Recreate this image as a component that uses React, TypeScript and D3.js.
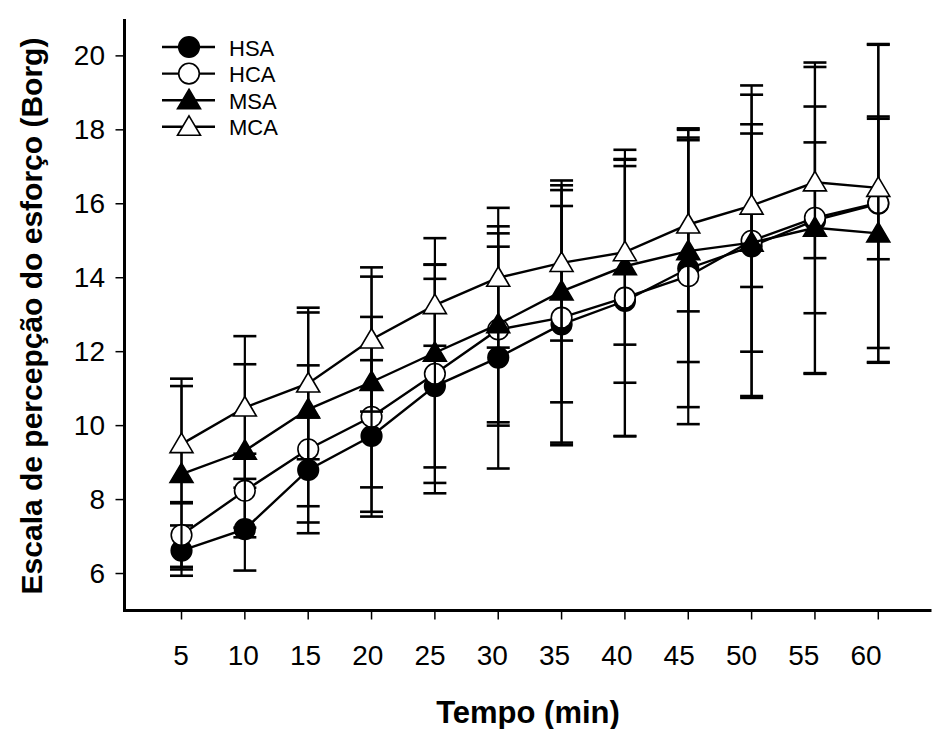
import React from "react";
import * as d3 from "d3";

const times = [5, 10, 15, 20, 25, 30, 35, 40, 45, 50, 55, 60];
const xTickLabels = ["5", "10", "15", "20", "25", "30", "35", "40", "45", "50", "55", "60"];
const yTicks = [6, 8, 10, 12, 14, 16, 18, 20];

const seriesNames = ["HSA", "HCA", "MSA", "MCA"];
const hsaMean = [6.62, 7.2, 8.8, 9.72, 11.07, 11.84, 12.74, 13.37, 14.25, 14.85, 15.55, 16.0];
const hsaSd = [0.68, 1.12, 1.42, 2.05, 2.9, 3.0, 3.2, 3.65, 3.75, 4.1, 4.15, 4.3];
const hcaMean = [7.04, 8.24, 9.36, 10.24, 11.4, 12.6, 12.92, 13.46, 14.04, 15.0, 15.62, 16.02];
const hcaSd = [0.86, 1.0, 2.27, 2.7, 2.95, 2.6, 3.45, 3.75, 4.0, 4.2, 4.2, 4.3];
const msaMean = [8.69, 9.32, 10.44, 11.18, 11.97, 12.74, 13.63, 14.31, 14.72, 14.95, 15.35, 15.2];
const msaSd = [2.58, 2.34, 2.62, 2.85, 3.1, 2.65, 3.0, 3.15, 3.0, 2.95, 2.31, 3.1];
const mcaMean = [9.5, 10.49, 11.14, 12.33, 13.26, 14.0, 14.4, 14.69, 15.44, 15.95, 16.58, 16.43];
const mcaSd = [1.57, 1.93, 2.05, 1.95, 1.1, 1.89, 2.1, 2.5, 2.35, 2.2, 2.05, 1.93];

const W = 932;
const H = 729;
const FONT = "'Liberation Sans', Arial, sans-serif";

type Shape = "circle" | "triangle";
interface Series { name: string; mean: number[]; sd: number[]; shape: Shape; filled: boolean; }

const series: Series[] = [
  { name: seriesNames[0], mean: hsaMean, sd: hsaSd, shape: "circle", filled: true },
  { name: seriesNames[1], mean: hcaMean, sd: hcaSd, shape: "circle", filled: false },
  { name: seriesNames[2], mean: msaMean, sd: msaSd, shape: "triangle", filled: true },
  { name: seriesNames[3], mean: mcaMean, sd: mcaSd, shape: "triangle", filled: false },
];

const x = d3.scaleLinear().domain([0.5, 64.2]).range([124.5, 931.5]);
// tick labels sit on a slightly compressed spacing in the reference
const xLabel = d3.scaleLinear().domain([5, 60]).range([181, 866]);
const y = d3.scaleLinear().domain([5, 21]).range([610.5, 18.9]);

function Marker({ cx, cy, shape, filled }: { cx: number; cy: number; shape: Shape; filled: boolean }) {
  const fill = filled ? "#000" : "#fff";
  if (shape === "circle") {
    return <circle cx={cx} cy={cy} r={10.3} fill={fill} stroke="#000" strokeWidth={1.6} />;
  }
  const p = `M${cx},${cy - 11} L${cx + 11.5},${cy + 8.5} L${cx - 11.5},${cy + 8.5} Z`;
  return <path d={p} fill={fill} stroke="#000" strokeWidth={1.6} strokeLinejoin="miter" />;
}

export default function App() {
  const line = d3.line<number>().x((_, i) => x(times[i])).y((d) => y(d));
  const capW = 11.5;
  return (
    <svg width={W} height={H} style={{ position: "absolute", left: 0, top: 0, background: "#fff" }} fontFamily={FONT}>
      <rect width={W} height={H} fill="#fff" />
      {series.map((s) => (
        <g key={s.name}>
          {times.map((t, i) => {
            const cx = x(t);
            const yt = y(s.mean[i] + s.sd[i]);
            const yb = y(s.mean[i] - s.sd[i]);
            return (
              <g key={i} stroke="#000">
                <line x1={cx} x2={cx} y1={yt} y2={yb} strokeWidth={2.2} />
                <line x1={cx - capW} x2={cx + capW} y1={yt} y2={yt} strokeWidth={2.6} />
                <line x1={cx - capW} x2={cx + capW} y1={yb} y2={yb} strokeWidth={2.6} />
              </g>
            );
          })}
          <path d={line(s.mean) || ""} fill="none" stroke="#000" strokeWidth={2.4} />
          {times.map((t, i) => (
            <Marker key={i} cx={x(t)} cy={y(s.mean[i])} shape={s.shape} filled={s.filled} />
          ))}
        </g>
      ))}

      {/* axes */}
      <line x1={x.range()[0]} x2={x.range()[0]} y1={y.range()[1]} y2={y.range()[0] + 1.5} stroke="#000" strokeWidth={3} />
      <line x1={x.range()[0] - 1.5} x2={x.range()[1]} y1={y.range()[0]} y2={y.range()[0]} stroke="#000" strokeWidth={3} />
      {yTicks.map((v) => (
        <g key={v}>
          <line x1={x.range()[0] - 9} x2={x.range()[0]} y1={y(v)} y2={y(v)} stroke="#000" strokeWidth={1.5} />
          <text x={105} y={y(v)} textAnchor="end" dominantBaseline="central" fontSize={28}>{v}</text>
        </g>
      ))}
      {times.map((t, i) => (
        <g key={t}>
          <line x1={x(t)} x2={x(t)} y1={y.range()[0]} y2={y.range()[0] + 9} stroke="#000" strokeWidth={1.5} />
          <text x={xLabel(t)} y={655} textAnchor="middle" dominantBaseline="central" fontSize={28}>{xTickLabels[i]}</text>
        </g>
      ))}
      <text x={528} y={712} textAnchor="middle" dominantBaseline="central" fontSize={31} fontWeight="bold">Tempo (min)</text>
      <text transform={`translate(31,316) rotate(-90)`} textAnchor="middle" dominantBaseline="central" fontSize={30} fontWeight="bold">
        Escala de percepção do esforço (Borg)
      </text>

      {/* legend */}
      {series.map((s, i) => {
        const ly = 47 + i * 26.6;
        return (
          <g key={s.name}>
            <line x1={162} x2={215} y1={ly} y2={ly} stroke="#000" strokeWidth={2.4} />
            <Marker cx={189} cy={ly} shape={s.shape} filled={s.filled} />
            <text x={229} y={ly + 1} dominantBaseline="central" fontSize={22}>{s.name}</text>
          </g>
        );
      })}
    </svg>
  );
}
